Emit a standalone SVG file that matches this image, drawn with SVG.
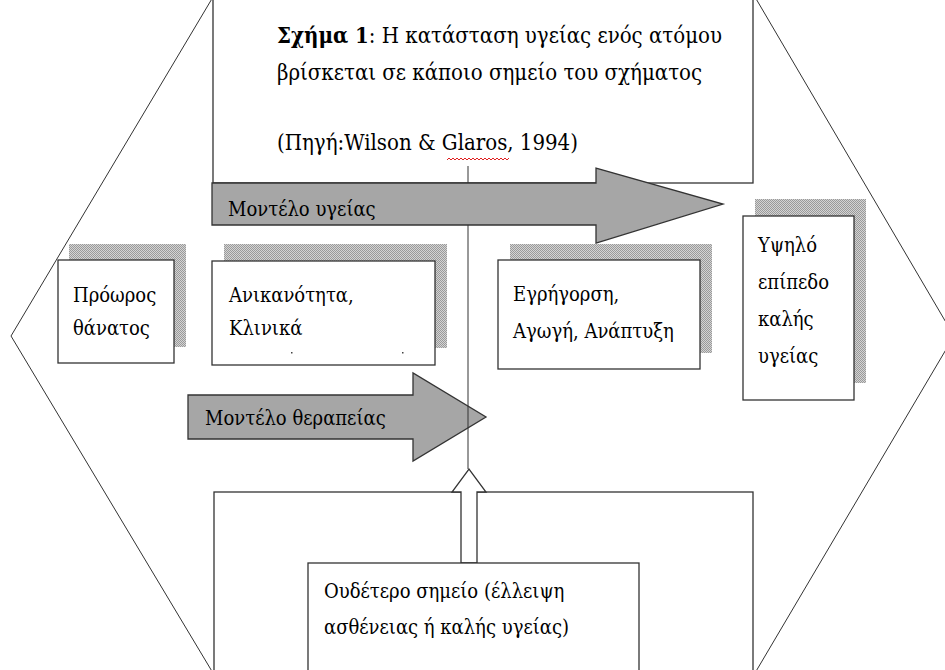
<svg xmlns="http://www.w3.org/2000/svg" width="945" height="670" viewBox="0 0 945 670">
<defs>
<pattern id="dither" width="2" height="2" patternUnits="userSpaceOnUse">
<rect width="2" height="2" fill="#d4d4d4"/>
<rect width="1" height="1" fill="#9a9a9a"/>
<rect x="1" y="1" width="1" height="1" fill="#9a9a9a"/>
</pattern>
</defs>
<style>
.ln{fill:none;stroke:#333;stroke-width:1}
.box{fill:#fff;stroke:#333;stroke-width:1.3}
.shadow{fill:url(#dither);stroke:none}
.arrow{fill:#a6a6a6;stroke:#333;stroke-width:1.3}
.t{font-family:"DejaVu Serif Condensed","DejaVu Serif",serif;font-stretch:condensed;font-size:20px;fill:#000}
.tt{font-family:"DejaVu Serif Condensed","DejaVu Serif",serif;font-stretch:condensed;font-size:22px;fill:#000}
</style>
<rect width="945" height="670" fill="#fff"/>
<g id="frame">
<polygon class="ln" points="213,-3 755,-3 954,336 755,673 213,673 11,336"/>
</g>
<g id="title-box">
<rect class="box" x="213" y="-5" width="540" height="188"/>
<text class="tt" x="277" y="43"><tspan font-weight="bold">Σχήμα 1</tspan>: Η κατάσταση υγείας ενός ατόμου</text>
<text class="tt" x="277" y="80">βρίσκεται σε κάποιο σημείο του σχήματος</text>
<text class="tt" x="277" y="150">(Πηγή:Wilson &amp; Glaros, 1994)</text>
<polyline fill="none" stroke="#e02020" stroke-width="1" points="447,160 449,158 451,160 453,158 455,160 457,158 459,160 461,158 463,160 465,158 467,160 469,158 471,160 473,158 475,160 477,158 479,160 481,158 483,160 485,158 487,160 489,158 491,160 493,158 495,160 497,158 499,160 501,158 503,160 505,158 507,160 509,158"/>
</g>
<g id="neutral-frame">
<rect class="box" x="214" y="492" width="539" height="190"/>
</g>
<g id="premature-death">
<rect class="shadow" x="69" y="244" width="117" height="103"/>
<rect class="box" x="58" y="260" width="116" height="103"/>
<text class="t" x="73" y="302">Πρόωρος</text>
<text class="t" x="73" y="335">θάνατος</text>
</g>
<g id="disability">
<rect class="shadow" x="224" y="244" width="223" height="104"/>
<rect class="box" x="212" y="261" width="223" height="104"/>
<text class="t" x="229" y="302">Ανικανότητα,</text>
<text class="t" x="229" y="335">Κλινικά</text>
<rect x="291" y="352" width="1.5" height="1.5" fill="#444"/>
<rect x="402" y="352" width="1.5" height="1.5" fill="#444"/>
</g>
<g id="alertness">
<rect class="shadow" x="510" y="244" width="202" height="109"/>
<rect class="box" x="498" y="260" width="202" height="109"/>
<text class="t" x="513" y="301">Εγρήγορση,</text>
<text class="t" x="513" y="338">Αγωγή, Ανάπτυξη</text>
</g>
<g id="high-health">
<rect class="shadow" x="755" y="199" width="111" height="184"/>
<rect class="box" x="743" y="216" width="111" height="184"/>
<text class="t" x="758" y="252">Υψηλό</text>
<text class="t" x="758" y="289">επίπεδο</text>
<text class="t" x="758" y="326">καλής</text>
<text class="t" x="758" y="363">υγείας</text>
</g>
<g id="therapy-model">
<polygon class="arrow" points="188,395 413,395 413,373 486,417 413,461 413,439 188,439"/>
<text class="t" x="205" y="425">Μοντέλο θεραπείας</text>
</g>
<g id="connectors">
<line class="ln" x1="468" y1="166" x2="468" y2="469"/>
<polygon fill="#fff" stroke="#333" stroke-width="1.3" points="461,563 461,492 452,492 469,469 486,492 477,492 477,563"/>
</g>
<g id="health-model">
<polygon class="arrow" points="212,183 596,183 596,168 723,204 596,243 596,225 212,225"/>
<text class="t" x="228" y="216">Μοντέλο υγείας</text>
</g>
<g id="neutral-point">
<rect class="box" x="308" y="563" width="331" height="120"/>
<text class="t" x="324" y="598">Ουδέτερο σημείο (έλλειψη</text>
<text class="t" x="324" y="634">ασθένειας ή καλής υγείας)</text>
</g>
</svg>
